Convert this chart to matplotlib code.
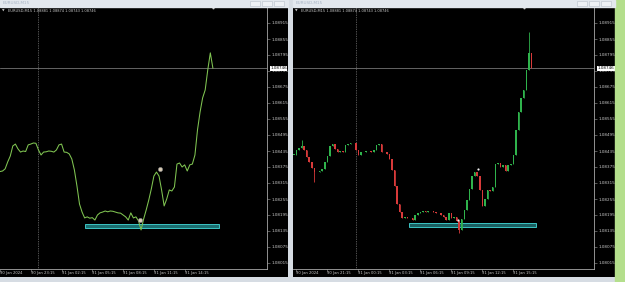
import matplotlib
matplotlib.use("Agg")
import matplotlib.pyplot as plt
import matplotlib.transforms as mtransforms
from matplotlib.patches import Rectangle

# M15 closes, bar 0 = 30 Jan 18:00
closes = [1.08420, 1.08439, 1.08446, 1.08454, 1.08439, 1.08413, 1.08394, 1.08371, 1.08356, 1.08358,
          1.08360, 1.08368, 1.08394, 1.08416, 1.08454, 1.08461, 1.08443, 1.08431, 1.08435, 1.08433,
          1.08458, 1.08461, 1.08465, 1.08464, 1.08439, 1.08420, 1.08431, 1.08432, 1.08435, 1.08434,
          1.08431, 1.08439, 1.08458, 1.08461, 1.08431, 1.08430, 1.08424, 1.08405, 1.08364, 1.08304,
          1.08236, 1.08206, 1.08184, 1.08188, 1.08183, 1.08185, 1.08176, 1.08195, 1.08203, 1.08206,
          1.08210, 1.08207, 1.08210, 1.08209, 1.08206, 1.08203, 1.08202, 1.08195, 1.08188, 1.08176,
          1.08203, 1.08184, 1.08188, 1.08173, 1.08139, 1.08180, 1.08214, 1.08251, 1.08293, 1.08341,
          1.08356, 1.08341, 1.08289, 1.08229, 1.08255, 1.08289, 1.08285, 1.08300, 1.08386, 1.08390,
          1.08375, 1.08383, 1.08360, 1.08383, 1.08386, 1.08420, 1.08514, 1.08581, 1.08634, 1.08664,
          1.08739, 1.08803, 1.08746]
wick_highs = {3: 1.08476, 91: 1.08880}
wick_lows = {8: 1.08319, 64: 1.08126}

symbol = "EURUSD,M15"
ohlc_text = "1.08881 1.08874 1.08743 1.08746"
last_price = 1.08746
price_ticks = [1.08915, 1.08855, 1.08795, 1.08735, 1.08675, 1.08615, 1.08555, 1.08495,
               1.08435, 1.08375, 1.08315, 1.08255, 1.08195, 1.08135, 1.08075, 1.08015]

left_time_bars = [9, 21, 33, 45, 57, 69, 81]
left_time_labels = ["30 Jan 2024", "30 Jan 23:15", "31 Jan 02:15", "31 Jan 05:15",
                    "31 Jan 08:15", "31 Jan 11:15", "31 Jan 14:15"]
right_time_bars = [1, 13, 25, 37, 49, 61, 73, 85]
right_time_labels = ["30 Jan 2024", "30 Jan 21:15", "31 Jan 00:15", "31 Jan 03:15",
                     "31 Jan 06:15", "31 Jan 09:15", "31 Jan 12:15", "31 Jan 15:15"]
day_sep_bar = 24

left_zone = [42, 94.2, 1.08145, 1.08160]
right_zone = [44.6, 93.8, 1.08150, 1.08165]
marker_bars = [63.4, 71.2]
marker_prices = [1.08176, 1.08366]

opens = [closes[0]] + closes[:-1]
bars = list(range(len(closes)))

W, H = 625, 282
fig = plt.figure(figsize=(W / 100, H / 100), dpi=100)
fig.patch.set_facecolor('#d6dce3')

def px(x0, y0, x1, y1):
    return [x0 / W, 1 - y1 / H, (x1 - x0) / W, (y1 - y0) / H]

# window chrome
fig.patches.append(Rectangle((615 / W, 0), 10 / W, 1, transform=fig.transFigure, color='#b4df8c', zorder=0))
for x0, x1 in [(0, 288), (293, 615)]:
    fig.patches.append(Rectangle((x0 / W, 1 - 7 / H), (x1 - x0) / W, 7 / H,
                                 transform=fig.transFigure, color='#e3e8ee', zorder=0))
    fig.text((x0 + 3) / W, 1 - 3.5 / H, symbol, fontsize=3, color='#a8b4c4', va='center')
    for k in range(3):
        bx = x1 - 38 + k * 12
        fig.patches.append(Rectangle((bx / W, 1 - 6 / H), 10 / W, 5 / H, transform=fig.transFigure,
                                     facecolor='#eef1f5', edgecolor='#b8c0ca', lw=0.4, zorder=1))
    bg = fig.add_axes(px(x0, 7, x1, 277))
    bg.set_facecolor('black')
    bg.set_xticks([])
    bg.set_yticks([])
    for s in bg.spines.values():
        s.set_visible(False)

ax1 = fig.add_axes(px(0, 7, 267, 269))
ax2 = fig.add_axes(px(293, 7, 594, 269))
ylo = 1.079925
yhi = 1.08975

for ax in (ax1, ax2):
    ax.set_facecolor('black')
    ax.set_ylim(ylo, yhi)
    ax.yaxis.tick_right()
    ax.set_yticks(price_ticks)
    ax.set_yticklabels(["%.5f" % p for p in price_ticks])
    ax.tick_params(axis='y', colors='#9a9a9a', labelcolor='#c8c8c8', labelsize=3.0,
                   length=2, width=0.4, pad=1.5)
    ax.tick_params(axis='x', colors='#9a9a9a', length=2, width=0.4, labelbottom=False)
    ax.spines['left'].set_visible(False)
    ax.spines['top'].set_visible(False)
    for s in ('right', 'bottom'):
        ax.spines[s].set_color('#a8a8a8')
        ax.spines[s].set_linewidth(0.6)
    ax.axhline(last_price, color='#8c8c8c', lw=0.5, zorder=1)
    ax.axvline(day_sep_bar, color='#a0a0a0', lw=0.5, ls=(0, (1, 1.5)), zorder=1)
    tr = mtransforms.blended_transform_factory(ax.transAxes, ax.transData)
    ax.text(1.012, last_price, "%.5f" % last_price, transform=tr, fontsize=3.0, color='black',
            va='center', ha='left', zorder=5,
            bbox=dict(facecolor='white', edgecolor='none', pad=0.4))
    ax.text(0.03 if ax is ax1 else 0.027, 0.985, symbol + " " + ohlc_text, transform=ax.transAxes,
            fontsize=2.6, color='#c8c8c8', va='center', ha='left')
    ax.text(0.008, 0.985, "\u25bc", transform=ax.transAxes, fontsize=2.4, color='#c8c8c8',
            va='center', ha='left')

ax1.set_xlim(9.77, 113.1)
ax2.set_xlim(-0.29, 116.2)

# left: line chart
ax1.plot(bars, closes, color='#80c552', lw=0.75, zorder=3)
ax1.add_patch(Rectangle((left_zone[0], left_zone[2]), left_zone[1] - left_zone[0],
                        left_zone[3] - left_zone[2], facecolor='#1a6e70', edgecolor='#3cc4c4',
                        lw=0.7, zorder=2))
ax1.scatter(marker_bars, marker_prices, s=9, color='#d9cbb4', edgecolor='#8a8a8a', lw=0.4, zorder=4)
ax1.plot([bars[-1]], [yhi], marker='v', color='#d0d0d0', ms=2.2, clip_on=False, zorder=5)

# right: candlesticks
for i in bars:
    o, c = opens[i], closes[i]
    col = '#2fb34c' if c >= o else '#d83a3a'
    hi = wick_highs.get(i, max(o, c))
    lo = wick_lows.get(i, min(o, c))
    ax2.vlines(i, lo, hi, color=col, lw=0.6, zorder=3)
    ax2.bar(i, max(abs(c - o), 0.00002), bottom=min(o, c), width=0.6, color=col, lw=0, zorder=3)
ax2.add_patch(Rectangle((right_zone[0], right_zone[2]), right_zone[1] - right_zone[0],
                        right_zone[3] - right_zone[2], facecolor='#1a5f61', edgecolor='#3cc4c4',
                        lw=0.7, zorder=2))
ax2.scatter(marker_bars, marker_prices, s=2.5, color='#f0f0f0', lw=0, zorder=4)
ax2.plot([89], [yhi], marker='v', color='#d0d0d0', ms=2.2, clip_on=False, zorder=5)

for ax, tb, tl in [(ax1, left_time_bars, left_time_labels), (ax2, right_time_bars, right_time_labels)]:
    ax.set_xticks(tb)
    tr = mtransforms.blended_transform_factory(ax.transData, ax.transAxes)
    for b, lab in zip(tb, tl):
        ax.text(b, -0.016, lab, transform=tr, fontsize=2.7, color='#c8c8c8',
                ha='left', va='center', clip_on=False)

fig.savefig("out.png", dpi=100, facecolor=fig.get_facecolor())
